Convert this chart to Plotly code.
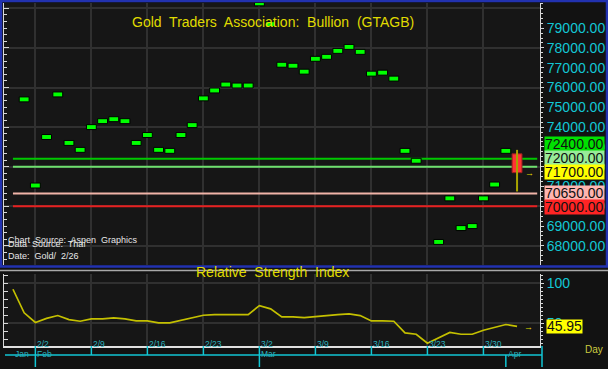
import pandas as pd
import plotly.graph_objects as go

# ---------------- data ----------------
dates = pd.bdate_range("2026-01-29", "2026-04-02")
price = [None, 75400, 71050, 73500, 75650, 73200, 72850, 74000, 74300, 74400,
         74300, 73200, 73600, 72850, 72800, 73600, 74100, 75450, 75850, 76150,
         76100, 76100, 80250, 79200, 77150, 77100, 76800, 77450, 77550, 77850,
         78050, 77800, 76700, 76750, 76450, 72800, 72300, None, 68200, 70400,
         68900, 69000, 70400, 71100, 72800]
last_open, last_high, last_low, last_close = 72650, 72850, 70750, 71700
rsi = [92.5, 63, 51, 56, 59.6, 54.6, 52.5, 55.4, 55.4, 56.7, 55.4, 52.9, 52.9,
       50.4, 50.4, 53.7, 57, 60, 60.8, 60.8, 60.8, 60.8, 72, 68, 58, 58, 57,
       58.7, 59.6, 60.8, 61.6, 59.6, 52.9, 52.9, 52.5, 37.9, 36.2, 25, 31.6,
       38.4, 36.2, 36.2, 41.2, 44.6, 48.4, 45.95]
levels = [72400, 72000, 71700, 70650, 70000]
level_lines = [72400, 72000, 70650, 70000]
price_ticks = [68000, 69000, 70000, 71000, 72000, 73000, 74000, 75000, 76000,
               77000, 78000, 79000]
rsi_ticks = [50, 100]
week_labels = ["2/2", "2/9", "2/16", "2/23", "3/2", "3/9", "3/16", "3/23", "3/30"]
month_labels = ["Jan", "Feb", "Mar", "Apr"]
title = "Gold  Traders  Association:  Bullion  (GTAGB)"
rsi_title = "Relative  Strength  Index"
src = ["Chart  Source:  Aspen  Graphics", "Data  Source:  Thai", "Date:  Gold/  2/26"]

# ---------------- styling ----------------
FONT = "Liberation Sans, Arial, sans-serif"
CYAN = "#12c6d4"
GRID = "#303030"
RULER = "#d8d8d8"
W, H = 608, 369


def py(px):
    return 1 - px / H


def pxx(px):
    return px / W


idx = list(range(len(dates)))
monday_idx = [i for i, d in enumerate(dates) if d.weekday() == 0]
month_first = {}
for i, d in enumerate(dates):
    month_first.setdefault(d.month, i)
month_idx = [month_first[m] for m in sorted(month_first)]

bx = [i for i, p in enumerate(price) if p is not None]
bv = [p for p in price if p is not None]
bar_h = 250

fig = go.Figure()
fig.add_trace(go.Bar(x=bx, base=[v - bar_h / 2 for v in bv], y=[bar_h] * len(bv),
                     width=0.88, marker=dict(color="#00ff00", line=dict(color="#000000", width=1)),
                     xaxis="x", yaxis="y", hoverinfo="skip"))
last_i = len(dates) - 1
fig.add_trace(go.Scatter(x=[last_i, last_i], y=[last_low, last_high], mode="lines",
                         line=dict(color="#a8a400", width=2), xaxis="x", yaxis="y"))
fig.add_trace(go.Bar(x=[last_i], base=[last_close], y=[last_open - last_close], width=0.88,
                     marker=dict(color="#ff3434", line=dict(color="#a02020", width=1)),
                     xaxis="x", yaxis="y"))
fig.add_trace(go.Scatter(x=[None], y=[None], xaxis="x", yaxis="y3"))
fig.add_trace(go.Scatter(x=idx, y=rsi, mode="lines", line=dict(color="#c4c000", width=1.7),
                         xaxis="x2", yaxis="y2"))
fig.add_trace(go.Scatter(x=[None], y=[None], xaxis="x2", yaxis="y4"))

xdom = [pxx(4), pxx(540)]
xr = [-0.8, 47.05]
pr = [67035, 80268]
rr = [21.5, 111.6]

fig.update_layout(
    width=W, height=H, margin=dict(l=0, r=0, t=0, b=0, autoexpand=False),
    paper_bgcolor="#121212", plot_bgcolor="#161616", showlegend=False,
    barmode="overlay",
    xaxis=dict(domain=xdom, range=xr, tickvals=monday_idx, showticklabels=False, ticks="",
               showgrid=True, gridcolor=GRID, gridwidth=1.5, zeroline=False, anchor="y",
               automargin=False),
    yaxis=dict(domain=[py(265), py(3)], range=pr, side="right", anchor="x", automargin=False,
               tickvals=price_ticks, ticktext=[f"{v}.00" for v in price_ticks],
               tickfont=dict(family=FONT, size=14, color=CYAN), ticklabelstandoff=0,
               showgrid=False, zeroline=False, showline=True, linecolor=RULER, linewidth=1,
               ticks="outside", ticklen=3, tickcolor=RULER,
               minor=dict(ticks="outside", ticklen=2, tickcolor=RULER, dtick=250, tick0=0)),
    yaxis3=dict(overlaying="y", side="left", anchor="x", range=pr, tickmode="linear",
                tick0=0, dtick=2000, showgrid=True, gridcolor=GRID, gridwidth=1.5,
                ticks="inside", ticklen=5, tickcolor=RULER, showline=True, linecolor=RULER,
                showticklabels=False, zeroline=False, automargin=False,
                minor=dict(ticks="inside", ticklen=3, tickcolor=RULER, dtick=1000 / 3, tick0=0)),
    xaxis2=dict(domain=xdom, range=xr, tickvals=monday_idx, showticklabels=False, ticks="",
                showgrid=True, gridcolor=GRID, gridwidth=1.5, zeroline=False, anchor="y2",
                showline=True, linecolor="#e0e0e0", linewidth=1.5, automargin=False),
    yaxis2=dict(domain=[py(346), py(274)], range=rr, side="right", anchor="x2", automargin=False,
                tickvals=rsi_ticks, ticktext=[str(v) for v in rsi_ticks],
                tickfont=dict(family=FONT, size=14, color=CYAN), ticklabelstandoff=0,
                showgrid=True, gridcolor=GRID, gridwidth=1.5, zeroline=False,
                showline=True, linecolor=RULER, ticks="outside", ticklen=3, tickcolor=RULER,
                minor=dict(ticks="outside", ticklen=2, tickcolor=RULER, dtick=5, tick0=0)),
    yaxis4=dict(overlaying="y2", side="left", anchor="x2", range=rr, tickmode="linear",
                tick0=0, dtick=10, showgrid=False, ticks="inside", ticklen=4, tickcolor=RULER,
                showline=True, linecolor=RULER, showticklabels=False, zeroline=False,
                automargin=False),
)

shapes = []
level_colors = {72400: "#00c800", 72000: "#6ee06e", 70650: "#f0b4a8", 70000: "#e82020"}
for lv in level_lines:
    shapes.append(dict(type="line", xref="x", yref="y", x0=0, x1=46.8, y0=lv, y1=lv,
                       line=dict(color=level_colors[lv], width=2), layer="between"))
# panel frames
shapes.append(dict(type="rect", xref="paper", yref="paper", x0=pxx(1), x1=pxx(607),
                   y0=py(266.5), y1=py(1), line=dict(color="#2232b0", width=2.5)))
shapes.append(dict(type="line", xref="paper", yref="paper", x0=0, x1=1, y0=py(270.5), y1=py(270.5),
                   line=dict(color="#a8a8a8", width=1.5)))
# date rows
shapes.append(dict(type="line", xref="paper", yref="paper", x0=pxx(5), x1=pxx(542),
                   y0=py(355), y1=py(355), line=dict(color=CYAN, width=1.5)))
shapes.append(dict(type="line", xref="paper", yref="paper", x0=pxx(542), x1=pxx(542),
                   y0=py(346), y1=py(367), line=dict(color=CYAN, width=1.5)))
for i in monday_idx:
    shapes.append(dict(type="line", xref="x2", yref="paper", x0=i, x1=i, y0=py(346), y1=py(355),
                       line=dict(color=CYAN, width=1.5)))
for i in month_idx[1:]:
    shapes.append(dict(type="line", xref="x2", yref="paper", x0=i, x1=i, y0=py(355), y1=py(367),
                       line=dict(color=CYAN, width=1.5)))
fig.update_layout(shapes=shapes)

ann = []
ann.append(dict(text=title, x=pxx(273), y=py(12), xref="paper", yref="paper", showarrow=False,
                font=dict(family=FONT, size=14, color="#e0dc00")))
ann.append(dict(text=rsi_title, x=pxx(272), y=py(282), xref="paper", yref="paper", showarrow=False,
                font=dict(family=FONT, size=14, color="#e0dc00")))
box_colors = {72400: "#00e000", 72000: "#98ec98", 71700: "#ffff00", 70650: "#ffb4b0", 70000: "#ff2424"}
box_shift = {72400: 15, 72000: 8.5, 71700: 1, 70650: 0, 70000: -1}
for lv in levels:
    ann.append(dict(text=f"{lv}.00", x=pxx(544), y=lv, xref="paper", yref="y", xanchor="left",
                    yanchor="middle", yshift=box_shift[lv], showarrow=False, bgcolor=box_colors[lv],
                    width=59, height=13.5, borderpad=0, align="left",
                    font=dict(family=FONT, size=14, color="#101010")))
ann.append(dict(text="→", x=pxx(536), y=last_close, xref="paper", yref="y", showarrow=False,
                font=dict(size=9, color="#e0dc00")))
ann.append(dict(text=f"{rsi[-1]:.2f}", x=pxx(545.5), y=rsi[-1], xref="paper", yref="y2",
                xanchor="left", showarrow=False, bgcolor="#ffff00", width=35, height=12.5,
                borderpad=0, font=dict(family=FONT, size=14, color="#101010")))
ann.append(dict(text="→", x=pxx(535), y=rsi[-1], xref="paper", yref="y2", showarrow=False,
                font=dict(size=9, color="#e0dc00")))
ann.append(dict(text="Day", x=pxx(583), y=py(357), xref="paper", yref="paper", xanchor="left",
                showarrow=False, font=dict(family=FONT, size=10, color="#cccc40")))
for k, s in enumerate(src):
    ann.append(dict(text=s, x=pxx(6), y=py(240 + 11.3 * k), xref="paper", yref="paper",
                    xanchor="left", showarrow=False,
                    font=dict(family=FONT, size=9, color="#e8e8e8")))
for lab, i in zip(week_labels, monday_idx):
    ann.append(dict(text=lab, x=i, y=py(351), xref="x2", yref="paper", xanchor="left",
                    xshift=0, showarrow=False, font=dict(family=FONT, size=8.5, color="#2ab0bc")))
for lab, i in zip(month_labels, month_idx):
    ann.append(dict(text=lab, x=i, y=py(361), xref="x2", yref="paper", xanchor="left",
                    xshift=0, showarrow=False, font=dict(family=FONT, size=8.5, color="#2ab0bc")))
fig.update_layout(annotations=ann)

fig.write_html("out.html", config={"displayModeBar": False},
               post_script="document.body.style.margin='0';document.body.style.overflow='hidden';")
